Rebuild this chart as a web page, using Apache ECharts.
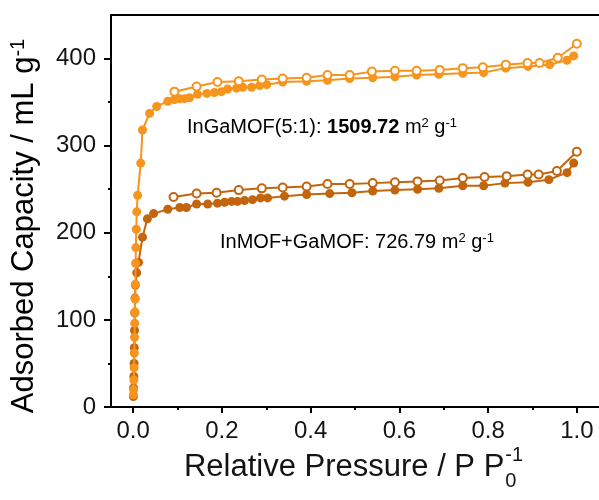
<!DOCTYPE html>
<html>
<head>
<meta charset="utf-8">
<script src="https://cdn.jsdelivr.net/npm/echarts@6/dist/echarts.min.js"></script>
<style>
  html, body { margin: 0; padding: 0; background: #ffffff; }
  #chart { width: 599px; height: 500px; }
</style>
</head>
<body>
<div id="chart"></div>
<script>
// N2 isotherms: relative pressure (P/P0) vs adsorbed volume (mL/g)

// InGaMOF(5:1) adsorption branch
const ingaAdsP = [0.0005, 0.001, 0.0015, 0.002, 0.0025, 0.003, 0.0035, 0.004, 0.0045, 0.005,
  0.0055, 0.006, 0.007, 0.008, 0.010, 0.017, 0.021, 0.037, 0.053, 0.078,
  0.093, 0.105, 0.116, 0.127, 0.145, 0.166, 0.183, 0.199, 0.213, 0.233,
  0.247, 0.267, 0.285, 0.301, 0.337, 0.391, 0.438, 0.488, 0.540, 0.590,
  0.639, 0.689, 0.743, 0.790, 0.840, 0.890, 0.939, 0.978, 0.993];
const ingaAdsV = [14, 20, 31, 45, 62, 80, 96, 109, 124, 141,
  165, 183, 204, 224, 243, 280, 318, 337, 345, 351,
  353, 354, 354, 355, 359, 360, 361, 362, 365, 366,
  367, 367, 369, 370, 373, 374, 375, 377, 378, 379,
  381, 382, 383, 384, 389, 391, 393, 398, 403];

// InGaMOF(5:1) desorption branch
const ingaDesP = [1.0, 0.957, 0.916, 0.889, 0.840, 0.788, 0.743, 0.691, 0.639, 0.590,
  0.538, 0.488, 0.438, 0.391, 0.337, 0.290, 0.238, 0.190, 0.143, 0.093];
const ingaDesV = [417, 401, 395, 395, 393, 390, 389, 387, 386, 386,
  385, 381, 381, 378, 377, 376, 374, 373, 368, 362];

// InMOF+GaMOF adsorption branch
const mixAdsP = [0.0005, 0.001, 0.0015, 0.002, 0.0025, 0.003, 0.0035, 0.004, 0.005, 0.008,
  0.012, 0.021, 0.032, 0.046, 0.078, 0.105, 0.120, 0.143, 0.168, 0.190,
  0.206, 0.222, 0.235, 0.251, 0.269, 0.287, 0.303, 0.341, 0.391, 0.443,
  0.493, 0.540, 0.590, 0.641, 0.689, 0.743, 0.790, 0.838, 0.890, 0.937,
  0.978, 0.993];
const mixAdsV = [12, 22, 35, 50, 68, 88, 108, 125, 140, 154,
  166, 195, 216, 222, 227, 229, 229, 233, 233, 234,
  235, 236, 236, 237, 238, 240, 240, 242, 244, 245,
  246, 248, 249, 250, 251, 254, 254, 257, 258, 261,
  269, 280];

// InMOF+GaMOF desorption branch
const mixDesP = [1.0, 0.955, 0.914, 0.889, 0.842, 0.792, 0.743, 0.691, 0.641, 0.590,
  0.540, 0.488, 0.438, 0.391, 0.337, 0.290, 0.238, 0.188, 0.143, 0.091];
const mixDesV = [293, 271, 267, 267, 265, 264, 263, 260, 259, 258,
  257, 256, 256, 253, 252, 251, 249, 246, 245, 241];

// Axis ticks
const xMajorTicks = [0, 0.2, 0.4, 0.6, 0.8, 1.0];
const xMinorTicks = [0.1, 0.3, 0.5, 0.7, 0.9];
const yMajorTicks = [0, 100, 200, 300, 400];
const yMinorTicks = [50, 150, 250, 350];

const ORANGE = '#F7941D';
const BROWN = '#C2650D';
const FONT = '"Liberation Sans", Arial, sans-serif';

function pairs(xs, ys) {
  return xs.map((x, i) => [x, ys[i]]);
}

function measure(text, font) {
  const ctx = document.createElement('canvas').getContext('2d');
  ctx.font = font;
  return ctx.measureText(text).width;
}

const chart = echarts.init(document.getElementById('chart'), null, { renderer: 'canvas' });

// x-axis title pieces: "Relative Pressure / P P" + stacked subscript 0 / superscript -1
const titleSize = 31;
const subSize = 20;
const xTitleMain = 'Relative Pressure / P P';
const wMain = measure(xTitleMain, titleSize + 'px ' + FONT);
const wSub = measure('-1', subSize + 'px ' + FONT);
const xTitleStart = 353 - (wMain + wSub) / 2;
const xTitleY = 467;

const lineSeries = (name, xs, ys, color, open, z) => ({
  name: name,
  type: 'line',
  xAxisIndex: 0,
  yAxisIndex: 0,
  data: pairs(xs, ys),
  symbol: open ? 'emptyCircle' : 'circle',
  symbolSize: open ? 8 : 9,
  showAllSymbol: true,
  z: z,
  lineStyle: { color: color, width: 2 },
  itemStyle: open ? { color: color, borderColor: color, borderWidth: 2 } : { color: color },
  emphasis: { disabled: true },
  animation: false
});

const option = {
  animation: false,
  backgroundColor: '#ffffff',
  grid: { left: 111, right: 0, top: 15, bottom: 93, containLabel: false },
  xAxis: [
    {
      type: 'value', position: 'bottom', min: -0.05, max: 1.05,
      axisLine: { show: true, onZero: false, lineStyle: { color: '#000', width: 2 } },
      axisTick: { show: true, inside: false, length: 6, customValues: xMajorTicks,
        lineStyle: { color: '#000', width: 2 } },
      axisLabel: { show: true, customValues: xMajorTicks, margin: 12,
        fontSize: 24, fontFamily: FONT, color: '#141414',
        formatter: v => v.toFixed(1) },
      splitLine: { show: false }
    },
    {
      type: 'value', position: 'bottom', min: -0.05, max: 1.05,
      axisLine: { show: false, onZero: false },
      axisTick: { show: true, inside: false, length: 3, customValues: xMinorTicks,
        lineStyle: { color: '#000', width: 2 } },
      axisLabel: { show: false },
      splitLine: { show: false }
    },
    {
      type: 'value', position: 'top', min: -0.05, max: 1.05,
      axisLine: { show: true, onZero: false, lineStyle: { color: '#000', width: 2 } },
      axisTick: { show: false },
      axisLabel: { show: false },
      splitLine: { show: false }
    }
  ],
  yAxis: [
    {
      type: 'value', position: 'left', min: 0, max: 450,
      axisLine: { show: true, onZero: false, lineStyle: { color: '#000', width: 2 } },
      axisTick: { show: true, inside: false, length: 7, customValues: yMajorTicks,
        lineStyle: { color: '#000', width: 2 } },
      axisLabel: { show: true, customValues: yMajorTicks, margin: 15,
        fontSize: 24, fontFamily: FONT, color: '#141414' },
      splitLine: { show: false }
    },
    {
      type: 'value', position: 'left', min: 0, max: 450,
      axisLine: { show: false, onZero: false },
      axisTick: { show: true, inside: false, length: 3, customValues: yMinorTicks,
        lineStyle: { color: '#000', width: 2 } },
      axisLabel: { show: false },
      splitLine: { show: false }
    }
  ],
  series: [
    lineSeries('InMOF+GaMOF adsorption', mixAdsP, mixAdsV, BROWN, false, 2),
    lineSeries('InMOF+GaMOF desorption', mixDesP, mixDesV, BROWN, true, 2),
    lineSeries('InGaMOF(5:1) adsorption', ingaAdsP, ingaAdsV, ORANGE, false, 3),
    lineSeries('InGaMOF(5:1) desorption', ingaDesP, ingaDesV, ORANGE, true, 3)
  ],
  graphic: [
    {
      type: 'text', x: 187, y: 127, z: 10, silent: true,
      style: {
        text: '{a|InGaMOF(5:1): }{b|1509.72}{a| m}{s|2}{a| g}{s|-1}',
        textAlign: 'left', textVerticalAlign: 'middle', verticalAlign: 'middle',
        rich: {
          a: { fontSize: 20, fontFamily: FONT, color: '#F3A44C' },
          b: { fontSize: 20, fontFamily: FONT, fontWeight: 'bold', color: '#F28C1E' },
          s: { fontSize: 13, fontFamily: FONT, color: '#F3A44C', verticalAlign: 'top' }
        }
      }
    },
    {
      type: 'text', x: 220, y: 242, z: 10, silent: true,
      style: {
        text: '{a|InMOF+GaMOF: 726.79 m}{s|2}{a| g}{s|-1}',
        textAlign: 'left', textVerticalAlign: 'middle', verticalAlign: 'middle',
        rich: {
          a: { fontSize: 20, fontFamily: FONT, color: '#5C4A2C' },
          s: { fontSize: 13, fontFamily: FONT, color: '#5C4A2C', verticalAlign: 'top' }
        }
      }
    },
    {
      type: 'text', x: xTitleStart, y: xTitleY, silent: true,
      style: {
        text: xTitleMain, font: titleSize + 'px ' + FONT, fill: '#141414',
        textAlign: 'left', textVerticalAlign: 'middle', verticalAlign: 'middle'
      }
    },
    {
      type: 'text', x: xTitleStart + wMain + 1, y: xTitleY + 14, silent: true,
      style: {
        text: '0', font: subSize + 'px ' + FONT, fill: '#141414',
        textAlign: 'left', textVerticalAlign: 'middle', verticalAlign: 'middle'
      }
    },
    {
      type: 'text', x: xTitleStart + wMain + 1, y: xTitleY - 12, silent: true,
      style: {
        text: '-1', font: subSize + 'px ' + FONT, fill: '#141414',
        textAlign: 'left', textVerticalAlign: 'middle', verticalAlign: 'middle'
      }
    },
    {
      type: 'text', x: 24, y: 226, rotation: Math.PI / 2, silent: true,
      style: {
        text: '{m|Adsorbed Capacity / mL g}{s|-1}',
        textAlign: 'center', textVerticalAlign: 'middle', verticalAlign: 'middle',
        rich: {
          m: { fontSize: titleSize, fontFamily: FONT, color: '#141414' },
          s: { fontSize: subSize, fontFamily: FONT, color: '#141414', verticalAlign: 'top' }
        }
      }
    }
  ]
};

chart.setOption(option);
</script>
</body>
</html>
